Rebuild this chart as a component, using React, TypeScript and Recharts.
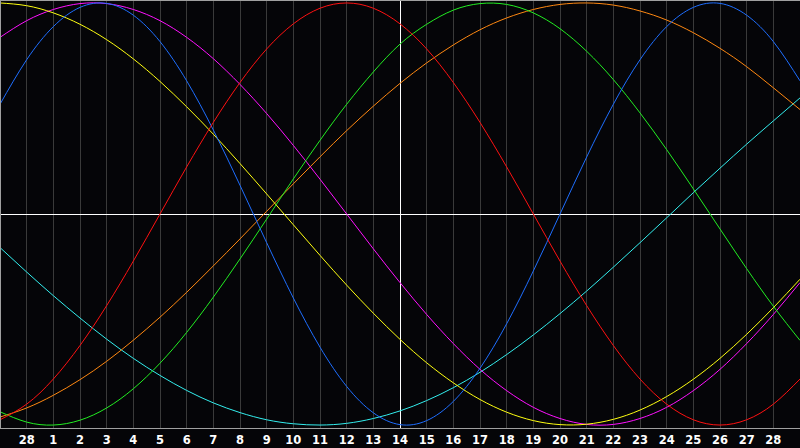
import { CartesianGrid, Line, LineChart, ReferenceLine, XAxis, YAxis } from "recharts";

// Day positions: -1 is the left edge, 29 the right edge; 0..28 carry labels.
const days = [-1, 0, 1, 2, 3, 4, 5, 6, 7, 8, 9, 10, 11, 12, 13, 14, 15, 16, 17, 18, 19, 20, 21, 22, 23, 24, 25, 26, 27, 28, 29];
const dayTicks = [0, 1, 2, 3, 4, 5, 6, 7, 8, 9, 10, 11, 12, 13, 14, 15, 16, 17, 18, 19, 20, 21, 22, 23, 24, 25, 26, 27, 28];
const dayLabels = ["28", "1", "2", "3", "4", "5", "6", "7", "8", "9", "10", "11", "12", "13", "14", "15", "16", "17", "18", "19", "20", "21", "22", "23", "24", "25", "26", "27", "28"];

// Values, one per day position.
const red = [-0.975, -0.901, -0.782, -0.623, -0.434, -0.223, 0, 0.223, 0.434, 0.623, 0.782, 0.901, 0.975, 1, 0.975, 0.901, 0.782, 0.623, 0.434, 0.223, 0, -0.223, -0.434, -0.623, -0.782, -0.901, -0.975, -1, -0.975, -0.901, -0.782];
const green = [-0.937, -0.986, -1, -0.977, -0.919, -0.828, -0.707, -0.561, -0.394, -0.213, -0.024, 0.166, 0.349, 0.52, 0.673, 0.805, 0.899, 0.966, 0.997, 0.993, 0.953, 0.878, 0.771, 0.637, 0.479, 0.305, 0.119, -0.071, -0.259, -0.437, -0.599];
const blue = [0.52, 0.731, 0.888, 0.979, 0.998, 0.942, 0.817, 0.631, 0.398, 0.136, -0.136, -0.398, -0.631, -0.817, -0.942, -0.998, -0.979, -0.888, -0.731, -0.52, -0.27, 0, 0.27, 0.52, 0.731, 0.888, 0.979, 0.998, 0.942, 0.817, 0.631];
const cyan = [-0.159, -0.275, -0.387, -0.493, -0.593, -0.684, -0.765, -0.836, -0.895, -0.941, -0.975, -0.994, -1, -0.992, -0.969, -0.933, -0.884, -0.823, -0.75, -0.666, -0.573, -0.472, -0.365, -0.252, -0.136, -0.018, 0.101, 0.217, 0.331, 0.441, 0.55];
const yellow = [1, 0.987, 0.953, 0.899, 0.826, 0.735, 0.628, 0.508, 0.378, 0.239, 0.095, -0.051, -0.196, -0.337, -0.47, -0.594, -0.705, -0.8, -0.879, -0.939, -0.979, -0.998, -0.996, -0.973, -0.929, -0.865, -0.783, -0.684, -0.57, -0.444, -0.309];
const magenta = [0.837, 0.916, 0.969, 0.997, 0.997, 0.969, 0.916, 0.837, 0.736, 0.614, 0.476, 0.325, 0.165, 0, -0.165, -0.325, -0.476, -0.614, -0.736, -0.837, -0.916, -0.969, -0.997, -0.997, -0.969, -0.916, -0.837, -0.736, -0.614, -0.476, -0.325];
const orange = [-0.962, -0.919, -0.859, -0.785, -0.698, -0.598, -0.489, -0.371, -0.246, -0.118, 0.013, 0.143, 0.271, 0.395, 0.511, 0.619, 0.716, 0.801, 0.873, 0.929, 0.969, 0.993, 1, 0.99, 0.962, 0.919, 0.859, 0.785, 0.698, 0.598, 0.495];

const data = days.map((d, i) => ({
  day: d,
  red: red[i],
  green: green[i],
  blue: blue[i],
  cyan: cyan[i],
  yellow: yellow[i],
  magenta: magenta[i],
  orange: orange[i],
}));

const series = [
  { key: "cyan", color: "#33eeee" },
  { key: "orange", color: "#ff8811" },
  { key: "magenta", color: "#ff11ff" },
  { key: "yellow", color: "#ffff11" },
  { key: "green", color: "#22ee22" },
  { key: "blue", color: "#1e6eff" },
  { key: "red", color: "#ff1111" },
];

export default function App() {
  return (
    <div style={{ position: "absolute", left: 0, top: 0, width: 800, height: 448, background: "#050508" }}>
      <LineChart width={800} height={448} data={data} margin={{ top: 0, right: 0, bottom: 0, left: 0 }}>
        <CartesianGrid horizontal={false} stroke="#3a3a3a" shapeRendering="crispEdges" />
        <XAxis
          type="number"
          dataKey="day"
          domain={[-1, 29]}
          ticks={dayTicks}
          tickFormatter={(v) => dayLabels[v]}
          interval={0}
          height={20}
          axisLine={false}
          tickLine={false}
          tick={{ fill: "#ffffff", fontSize: 11.5, fontWeight: "bold", fontFamily: "'DejaVu Sans', sans-serif" }}
        />
        <YAxis hide domain={[-1.014, 1.014]} allowDataOverflow />
        <ReferenceLine y={0} stroke="#ffffff" shapeRendering="crispEdges" />
        <ReferenceLine x={14} stroke="#ffffff" shapeRendering="crispEdges" />
        {series.map((s) => (
          <Line
            key={s.key}
            type="natural"
            dataKey={s.key}
            stroke={s.color}
            strokeWidth={1}
            dot={false}
            activeDot={false}
            isAnimationActive={false}
          />
        ))}
      </LineChart>
      {/* gray frame on the left, top and bottom of the plot */}
      <div
        style={{
          position: "absolute",
          left: 0,
          top: 0,
          width: 800,
          height: 429,
          boxSizing: "border-box",
          borderTop: "1px solid #a0a0a0",
          borderLeft: "1px solid #a0a0a0",
          borderBottom: "1px solid #a0a0a0",
          pointerEvents: "none",
        }}
      />
    </div>
  );
}
